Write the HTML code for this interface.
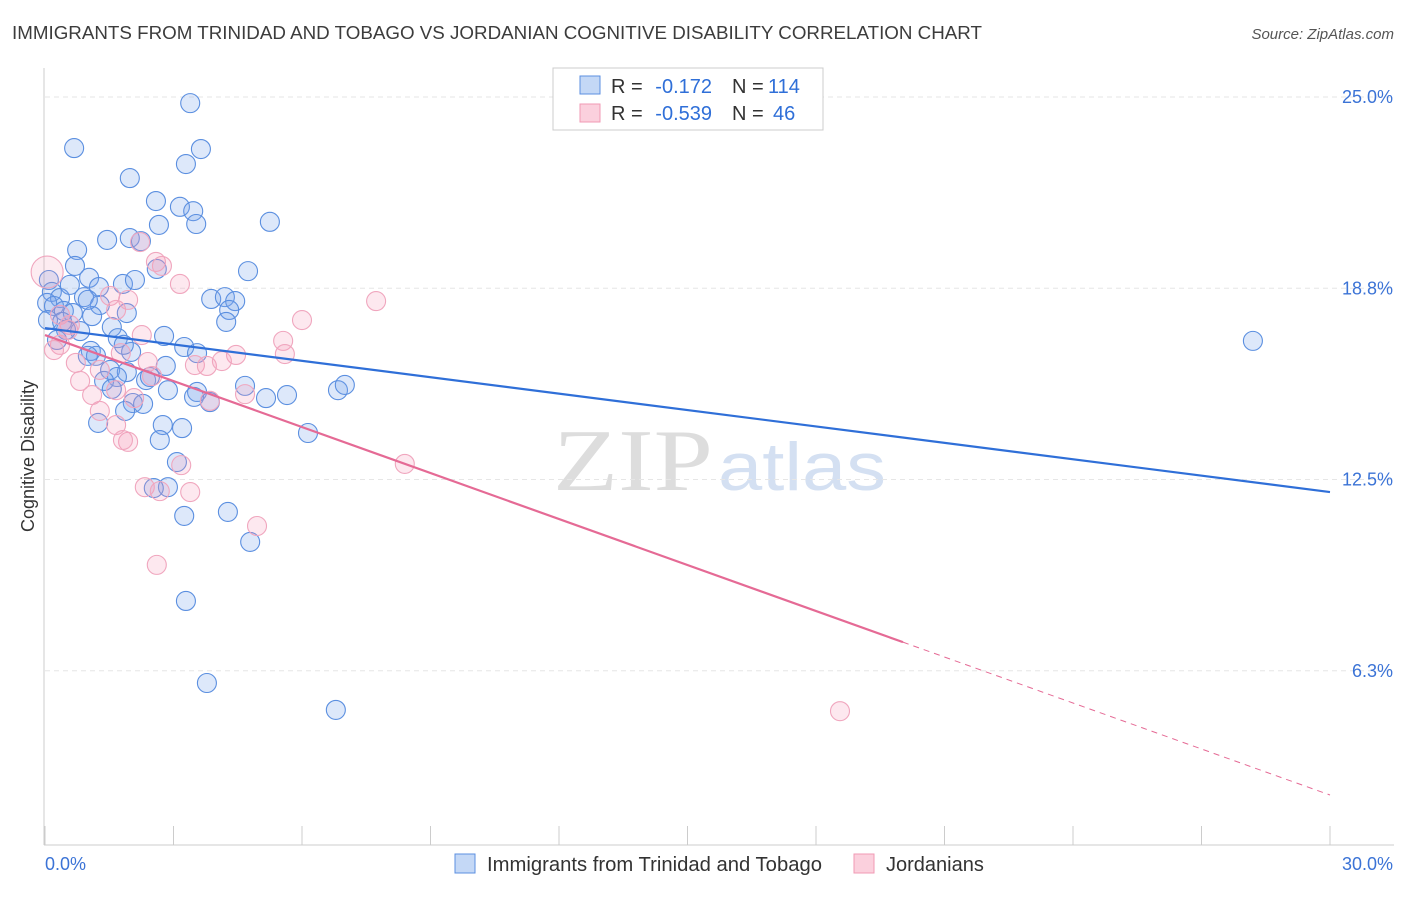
<!DOCTYPE html>
<html><head><meta charset="utf-8"><style>
body{margin:0;background:#fff;font-family:"Liberation Sans",sans-serif;}
</style></head><body>
<svg id="chart" width="1406" height="892" xmlns="http://www.w3.org/2000/svg" font-family="Liberation Sans, sans-serif">
<text x="12" y="39" font-size="18" fill="#3c3c3c" textLength="970" lengthAdjust="spacingAndGlyphs">IMMIGRANTS FROM TRINIDAD AND TOBAGO VS JORDANIAN COGNITIVE DISABILITY CORRELATION CHART</text>
<text x="1394" y="39" font-size="15" fill="#555" text-anchor="end" font-style="italic">Source: ZipAtlas.com</text>
<g><text x="553" y="490" font-size="88" fill="#ddd" font-family="Liberation Serif, serif" textLength="160" lengthAdjust="spacingAndGlyphs">ZIP</text><text x="718" y="490" font-size="68" fill="#d4e0f2" textLength="168" lengthAdjust="spacingAndGlyphs">atlas</text></g>
<g id="grid"></g><g id="axes"></g><g id="pts"></g><g id="lines"></g>
<text transform="translate(34,456) rotate(-90)" font-size="18" fill="#333" text-anchor="middle">Cognitive Disability</text>
<g>
<rect x="553" y="68" width="270" height="62" fill="#fff" stroke="#ccc"/>
<rect x="580" y="76" width="20" height="18" fill="#c4d8f6" stroke="#5b8fe0"/>
<rect x="580" y="104" width="20" height="18" fill="#fbd0dd" stroke="#f09ab4"/>
<text x="611" y="93" font-size="20" fill="#333">R =</text>
<text x="712" y="93" font-size="20" fill="#2f6fd8" text-anchor="end">-0.172</text>
<text x="732" y="93" font-size="20" fill="#333">N =</text>
<text x="768" y="93" font-size="20" fill="#2f6fd8">114</text>
<text x="611" y="120" font-size="20" fill="#333">R =</text>
<text x="712" y="120" font-size="20" fill="#2f6fd8" text-anchor="end">-0.539</text>
<text x="732" y="120" font-size="20" fill="#333">N =</text>
<text x="773" y="120" font-size="20" fill="#2f6fd8">46</text>
</g>
<g>
<rect x="455" y="854" width="20" height="19" fill="#c4d8f6" stroke="#5b8fe0"/>
<text x="487" y="871" font-size="20" fill="#333" textLength="335" lengthAdjust="spacingAndGlyphs">Immigrants from Trinidad and Tobago</text>
<rect x="854" y="854" width="20" height="19" fill="#fbd0dd" stroke="#f09ab4"/>
<text x="886" y="871" font-size="20" fill="#333">Jordanians</text>
</g>
</svg>
<script>
const yTicks=[25.0,18.8,12.5,6.3];
const yTickVals=[25,18.75,12.5,6.25];
const xTickLabels=["0.0%","30.0%"];
const blueX=[3.39,0.68,3.64,1.98,3.29,2.59,3.15,3.46,3.53,2.66,5.25,0.75,1.98,1.45,2.24,0.70,2.61,4.74,0.09,1.03,1.82,2.10,0.16,0.91,0.35,1.26,3.88,4.20,4.44,1.28,0.05,0.21,0.44,0.65,1.10,1.91,4.30,4.23,1.56,0.49,0.82,2.78,1.70,3.25,3.55,2.01,1.07,1.19,1.00,1.52,1.91,1.68,2.36,1.38,2.82,1.56,2.87,3.55,4.67,3.48,5.65,5.16,6.84,7.00,2.05,1.87,2.29,1.24,2.75,3.20,2.68,6.14,3.08,2.87,2.54,3.25,4.27,4.79,3.29,3.78,6.79,28.20,0.28,0.07,0.40,0.58,1.00,2.45,3.85,1.84];
const blueY=[24.80,23.33,23.30,22.35,22.81,21.60,21.41,21.27,20.85,20.82,20.92,20.00,20.39,20.33,20.29,19.48,19.38,19.31,19.02,19.09,18.89,19.02,18.63,18.46,18.43,18.79,18.40,18.46,18.33,18.20,18.27,18.17,18.01,17.94,17.84,17.94,18.04,17.65,17.48,17.39,17.35,17.19,17.12,16.83,16.63,16.67,16.70,16.54,16.54,16.08,16.01,15.85,15.75,15.72,16.21,15.46,15.42,15.36,15.56,15.20,15.26,15.16,15.42,15.59,15.00,14.74,14.97,14.35,14.28,14.18,13.79,14.02,13.07,12.25,12.22,11.31,11.44,10.46,8.53,5.85,4.97,17.03,17.06,17.71,17.65,18.86,18.37,15.85,15.03,16.90];
const pinkX=[0.05,2.22,2.59,2.73,3.15,1.52,1.66,1.94,7.73,6.00,0.35,0.58,2.26,5.56,5.60,4.46,1.77,2.40,0.72,3.50,3.78,4.13,0.82,2.50,1.10,4.67,2.08,1.28,1.66,1.94,1.82,3.85,8.40,3.18,2.33,2.68,3.39,4.95,2.61,18.56,0.35,1.28,0.21,1.66,0.54];
const pinkY=[19.28,20.26,19.61,19.48,18.89,18.50,18.04,18.37,18.33,17.71,17.88,17.55,17.22,17.03,16.60,16.57,16.63,16.34,16.31,16.24,16.21,16.37,15.72,15.88,15.26,15.29,15.16,14.74,14.28,13.73,13.79,15.07,13.01,12.97,12.25,12.12,12.09,10.98,9.71,4.93,16.90,16.08,16.73,15.42,17.39];
const blueTrend=[17.45,12.09];
const pinkTrend=[17.22,2.19];
const pinkSolidEnd=20.03;
const NS="http://www.w3.org/2000/svg";
function xs(v){return 45+v/30*1285;}
function ys(v){return 862-v*30.6;}
function mk(t,a,p){const e=document.createElementNS(NS,t);for(const k in a)e.setAttribute(k,a[k]);p.appendChild(e);return e;}
const grid=document.getElementById('grid'),axes=document.getElementById('axes'),pts=document.getElementById('pts'),lines=document.getElementById('lines');
yTickVals.forEach((v,i)=>{
 const g=mk('line',{x1:45,x2:1394,y1:ys(v),y2:ys(v),stroke:'#e6e6e6','stroke-dasharray':'5,4'},grid);
 
 
 const t=mk('text',{x:1393,y:ys(v)+6,'font-size':18,fill:'#3b73d6','text-anchor':'end'},axes);
 t.textContent=yTicks[i].toFixed(1)+'%';
 
 
});
const ya=mk('line',{x1:44,x2:44,y1:68,y2:845,stroke:'#ccc'},axes);


const xa=mk('line',{x1:44,x2:1394,y1:845,y2:845,stroke:'#ccc'},axes);


for(let i=0;i<=10;i++){const t=mk('line',{x1:xs(i*3),x2:xs(i*3),y1:826,y2:845,stroke:'#ccc'},axes);
 
 }
const xl0=mk('text',{x:45,y:870,'font-size':18,fill:'#3b73d6'},axes);xl0.textContent=xTickLabels[0];


const xl1=mk('text',{x:1393,y:870,'font-size':18,fill:'#3b73d6','text-anchor':'end'},axes);xl1.textContent=xTickLabels[1];


blueX.forEach((x,i)=>{const c=mk('circle',{cx:xs(x),cy:ys(blueY[i]),r:9.5,fill:'rgba(120,165,235,0.25)',stroke:'#5b8fe0','stroke-width':1.1},pts);
 
 });
pinkX.forEach((x,i)=>{const c=mk('circle',{cx:xs(x),cy:ys(pinkY[i]),r:i===0?16:9.5,fill:i===0?'rgba(245,150,180,0.18)':'rgba(245,150,180,0.22)',stroke:'#f0a6be','stroke-width':1.1},pts);
 
 });
const bl=mk('line',{x1:xs(0),y1:ys(blueTrend[0]),x2:xs(30),y2:ys(blueTrend[1]),stroke:'#2f6fd8','stroke-width':2.2},lines);


const pm=pinkTrend[0]+(pinkTrend[1]-pinkTrend[0])*pinkSolidEnd/30;
const pl=mk('line',{x1:xs(0),y1:ys(pinkTrend[0]),x2:xs(pinkSolidEnd),y2:ys(pm),stroke:'#e56a95','stroke-width':2.2},lines);


const pd=mk('line',{x1:xs(pinkSolidEnd),y1:ys(pm),x2:xs(30),y2:ys(pinkTrend[1]),stroke:'#e56a95','stroke-width':1,'stroke-dasharray':'6,5'},lines);


</script>
</body></html>
